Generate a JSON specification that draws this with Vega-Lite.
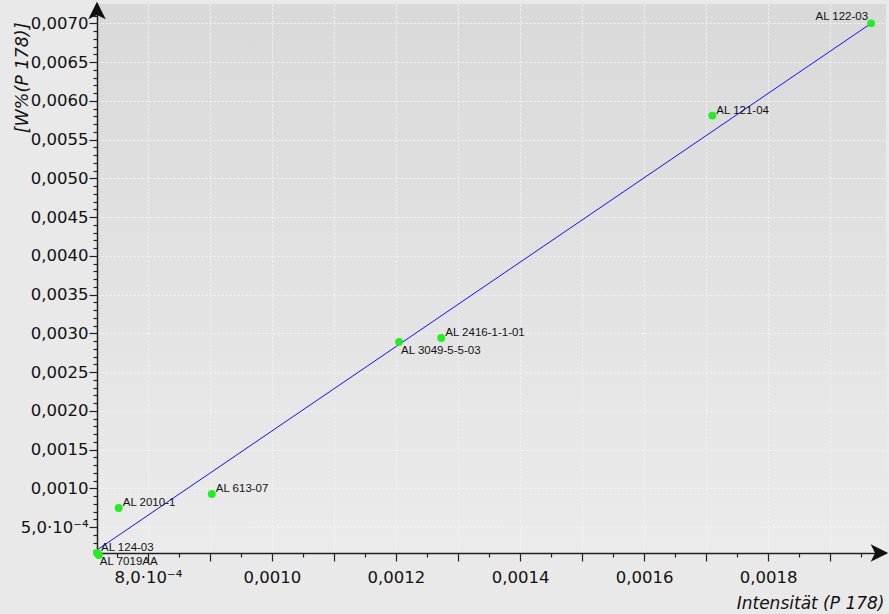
{
  "$schema": "https://vega.github.io/schema/vega-lite/v6.json",
  "width": 789,
  "height": 549,
  "autosize": {"type": "none"},
  "padding": {"left": 97, "top": 4, "right": 3, "bottom": 61},
  "background": "#e9e9e9",
  "config": {
    "view": {
      "stroke": null,
      "fill": {"gradient": "linear", "x1": 0, "y1": 0, "x2": 0, "y2": 1,
        "stops": [{"offset": 0, "color": "#d9d9d9"}, {"offset": 1, "color": "#ebebeb"}]}
    },
    "axis": {
      "domainColor": "#222222",
      "domainWidth": 1.5,
      "tickColor": "#222222",
      "tickWidth": 1.2,
      "labelFont": "DejaVu Sans",
      "labelFontSize": 16.5,
      "labelColor": "#111111",
      "labelOverlap": false,
      "labelBound": false,
      "labelFlush": false,
      "titleFont": "DejaVu Sans",
      "titleFontStyle": "italic",
      "titleFontWeight": "normal",
      "titleColor": "#111111",
      "gridColor": "#f4f4f4",
      "gridDash": [2, 2],
      "gridWidth": 1
    }
  },
  "datasets": {
    "samples": [
      {"probe": "AL 122-03", "intensity": 0.001966, "w": 0.00700},
      {"probe": "AL 121-04", "intensity": 0.001710, "w": 0.00581},
      {"probe": "AL 2416-1-1-01", "intensity": 0.001273, "w": 0.00294},
      {"probe": "AL 3049-5-5-03", "intensity": 0.001205, "w": 0.00289},
      {"probe": "AL 613-07", "intensity": 0.000903, "w": 0.000926},
      {"probe": "AL 2010-1", "intensity": 0.000753, "w": 0.000745},
      {"probe": "AL 124-03", "intensity": 0.000718, "w": 0.000165},
      {"probe": "AL 7019AA", "intensity": 0.000721, "w": 0.000139}
    ],
    "fit": [
      {"intensity": 0.000718, "w": 0.000204},
      {"intensity": 0.001966, "w": 0.00700}
    ],
    "axisEnds": [
      {"end": "y", "intensity": 0.000718, "w": 0.00725},
      {"end": "x", "intensity": 0.00199, "w": 0.000165}
    ]
  },
  "encoding": {
    "x": {
      "field": "intensity",
      "type": "quantitative",
      "scale": {"domain": [0.000718, 0.00199], "nice": false, "zero": false},
      "axis": {
        "title": "Intensität (P 178)",
        "titleFontSize": 17,
        "titleAlign": "right",
        "titleAnchor": null,
        "titleBaseline": "alphabetic",
        "titleX": 787,
        "titleY": 55,
        "values": [0.00075, 0.0008, 0.00085, 0.0009, 0.00095, 0.001, 0.00105, 0.0011, 0.00115, 0.0012, 0.00125, 0.0013, 0.00135, 0.0014, 0.00145, 0.0015, 0.00155, 0.0016, 0.00165, 0.0017, 0.00175, 0.0018, 0.00185, 0.0019, 0.00195],
        "labelExpr": "round(datum.value*100000) % 20 != 0 ? '' : (datum.value < 0.0009 ? replace(format(datum.value*10000, '.1f'), '.', ',') + '·10⁻⁴' : replace(format(datum.value, '.4f'), '.', ','))",
        "labelPadding": 8,
        "labelBaseline": "top",
        "tickSize": {"condition": {"test": "round(datum.value*100000) % 10 == 0", "value": 8}, "value": 4},
        "gridOpacity": {"condition": {"test": "round(datum.value*100000) % 10 == 0", "value": 1}, "value": 0}
      }
    },
    "y": {
      "field": "w",
      "type": "quantitative",
      "scale": {"domain": [0.000165, 0.00725], "nice": false, "zero": false},
      "axis": {
        "title": "[W%(P 178)]",
        "titleFontSize": 17.5,
        "titleAngle": -90,
        "titleAlign": "right",
        "titleAnchor": null,
        "titleBaseline": "alphabetic",
        "titleX": -70,
        "titleY": 18,
        "values": [0.0002, 0.0003, 0.0004, 0.0005, 0.0006, 0.0007, 0.0008, 0.0009, 0.001, 0.0011, 0.0012, 0.0013, 0.0014, 0.0015, 0.0016, 0.0017, 0.0018, 0.0019, 0.002, 0.0021, 0.0022, 0.0023, 0.0024, 0.0025, 0.0026, 0.0027, 0.0028, 0.0029, 0.003, 0.0031, 0.0032, 0.0033, 0.0034, 0.0035, 0.0036, 0.0037, 0.0038, 0.0039, 0.004, 0.0041, 0.0042, 0.0043, 0.0044, 0.0045, 0.0046, 0.0047, 0.0048, 0.0049, 0.005, 0.0051, 0.0052, 0.0053, 0.0054, 0.0055, 0.0056, 0.0057, 0.0058, 0.0059, 0.006, 0.0061, 0.0062, 0.0063, 0.0064, 0.0065, 0.0066, 0.0067, 0.0068, 0.0069, 0.007, 0.0071],
        "labelExpr": "round(datum.value*100000) % 50 != 0 ? '' : (datum.value < 0.0009 ? replace(format(datum.value*10000, '.1f'), '.', ',') + '·10⁻⁴' : replace(format(datum.value, '.4f'), '.', ','))",
        "labelPadding": 1,
        "tickSize": {"condition": {"test": "round(datum.value*100000) % 50 == 0", "value": 8}, "value": 4},
        "gridOpacity": {"condition": {"test": "round(datum.value*100000) % 50 == 0", "value": 1}, "value": 0}
      }
    }
  },
  "layer": [
    {
      "data": {"name": "fit"},
      "mark": {"type": "line", "color": "#1010ff", "strokeWidth": 1}
    },
    {
      "data": {"name": "samples"},
      "mark": {"type": "point", "filled": true, "color": "#22ee22", "opacity": 1, "size": 62}
    },
    {
      "data": {"name": "samples"},
      "transform": [{"filter": "indexof(['AL 121-04', 'AL 2416-1-1-01', 'AL 613-07', 'AL 2010-1', 'AL 124-03'], datum.probe) >= 0"}],
      "mark": {"type": "text", "align": "left", "baseline": "alphabetic", "dx": 4, "dy": -2, "font": "Liberation Sans", "fontSize": 11.5, "color": "#111111"},
      "encoding": {"text": {"field": "probe"}}
    },
    {
      "data": {"name": "samples"},
      "transform": [{"filter": "datum.probe == 'AL 122-03'"}],
      "mark": {"type": "text", "align": "right", "baseline": "alphabetic", "dx": -3, "dy": -3, "font": "Liberation Sans", "fontSize": 11.5, "color": "#111111"},
      "encoding": {"text": {"field": "probe"}}
    },
    {
      "data": {"name": "samples"},
      "transform": [{"filter": "datum.probe == 'AL 3049-5-5-03'"}],
      "mark": {"type": "text", "align": "left", "baseline": "top", "dx": 2, "dy": 3, "font": "Liberation Sans", "fontSize": 11.5, "color": "#111111"},
      "encoding": {"text": {"field": "probe"}}
    },
    {
      "data": {"name": "samples"},
      "transform": [{"filter": "datum.probe == 'AL 7019AA'"}],
      "mark": {"type": "text", "align": "left", "baseline": "top", "dx": 1, "dy": 1, "font": "Liberation Sans", "fontSize": 11.5, "color": "#111111"},
      "encoding": {"text": {"field": "probe"}}
    },
    {
      "data": {"name": "axisEnds"},
      "transform": [{"filter": "datum.end == 'y'"}],
      "mark": {"type": "point", "filled": true, "fill": "#111111", "stroke": null, "opacity": 1, "size": 480, "shape": "M0,-0.2L0.8,1.4L0,1.0L-0.8,1.4Z"}
    },
    {
      "data": {"name": "axisEnds"},
      "transform": [{"filter": "datum.end == 'x'"}],
      "mark": {"type": "point", "filled": true, "fill": "#111111", "stroke": null, "opacity": 1, "size": 480, "shape": "M0.2,0L-1.4,0.8L-1.0,0L-1.4,-0.8Z"}
    }
  ]
}
